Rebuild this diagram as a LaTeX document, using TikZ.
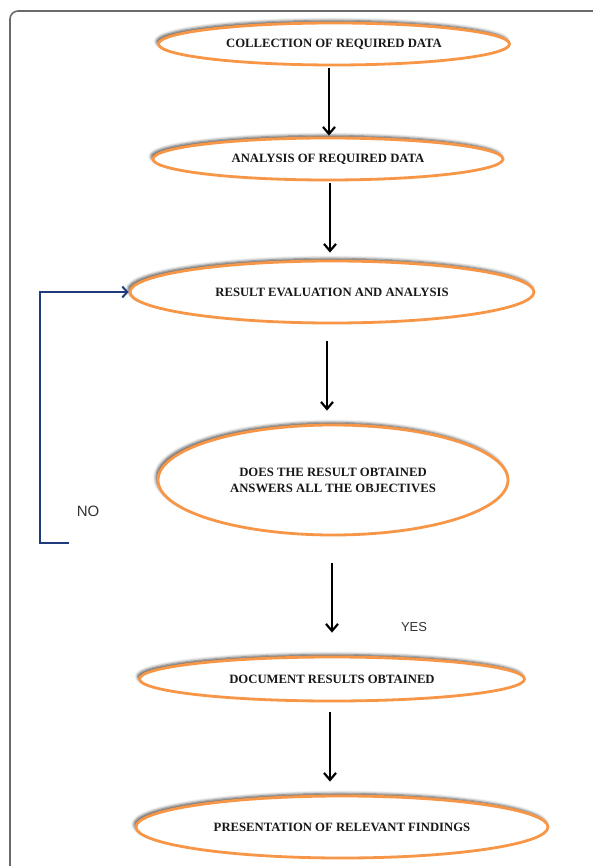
\documentclass[tikz,border=0pt]{standalone}
\usepackage{fontspec}
\setmainfont{Liberation Serif}
\newfontfamily\answerfont{Liberation Sans}
\usepackage{xcolor}
\usepackage{tikz}
\usetikzlibrary{shapes.geometric, arrows.meta, shadows.blur}

\definecolor{ovalorange}{HTML}{F79646}
\definecolor{loopnavy}{HTML}{1F3A7D}
\definecolor{framegray}{HTML}{6A6A6A}

\tikzset{
  stageoval/.style = {ellipse, draw = ovalorange, line width = 2.8pt, fill = white,
    inner sep = 0pt, align = center, text = black!90,
    font = \bfseries\fontsize{12.7}{16}\selectfont,
    blur shadow = {shadow xshift = -2pt, shadow yshift = 2.5pt,
      shadow blur radius = 3pt, shadow opacity = 70}},
  flowarrow/.style = {line width = 2.2pt, -{Straight Barb[length = 7pt, width = 12pt]}},
  backline/.style = {loopnavy, line width = 2pt, -{Straight Barb[length = 5pt, width = 11pt]}},
  answer/.style = {text = black!80, inner sep = 0pt}
}

\begin{document}
\begin{tikzpicture}[x = 1pt, y = -1pt]
  \useasboundingbox (0,0) rectangle (593,866);
  \draw[framegray, line width = 1.6pt, rounded corners = 8pt] (10,866) -- (10,11) -- (593,11);

  \node[stageoval, minimum width = 351pt, minimum height = 42pt] (collect) at (334,44)
  {COLLECTION OF REQUIRED DATA};
  \node[stageoval, minimum width = 350pt, minimum height = 42pt] (analysis) at (328,159)
  {ANALYSIS OF REQUIRED DATA};
  \node[stageoval, minimum width = 404pt, minimum height = 62pt] (result) at (332,292)
  {RESULT EVALUATION AND ANALYSIS};
  \node[stageoval, minimum width = 350pt, minimum height = 110pt] (objectives) at (333,480)
  {DOES THE RESULT OBTAINED\\ANSWERS ALL THE OBJECTIVES};
  \node[stageoval, minimum width = 385pt, minimum height = 44pt] (document) at (332,679)
  {DOCUMENT RESULTS OBTAINED};
  \node[stageoval, minimum width = 412pt, minimum height = 62pt] (findings) at (342,827)
  {PRESENTATION OF RELEVANT FINDINGS};

  \draw[flowarrow, shorten < = 2pt, shorten > = 1pt] ([xshift = -5pt]collect.south)
  -- ([xshift = -5pt]collect.south |- analysis.north);
  \draw[flowarrow, shorten < = 2pt, shorten > = 7pt] ([xshift = 2pt]analysis.south)
  -- ([xshift = 2pt]analysis.south |- result.north);
  \draw[flowarrow, shorten < = 17pt, shorten > = 13pt] ([xshift = -5pt]result.south)
  -- ([xshift = -5pt]result.south |- objectives.north);
  \draw[flowarrow, shorten < = 27pt, shorten > = 23pt] ([xshift = -1pt]objectives.south)
  -- ([xshift = -1pt]objectives.south |- document.north);
  \draw[flowarrow, shorten < = 10pt, shorten > = 13pt] ([xshift = -2pt]document.south)
  -- ([xshift = -2pt]document.south |- findings.north);

  \coordinate (loopend) at (69,543);
  \coordinate (loopcorner) at (40,543);
  \draw[backline] (loopend) -- (loopcorner) |- (result.west);

  \node[answer, font = \answerfont\fontsize{15}{15}\selectfont] (no) at (88,511) {NO};
  \node[answer, font = \answerfont\fontsize{13}{13}\selectfont] (yes) at (414,627) {YES};
\end{tikzpicture}
\end{document}
